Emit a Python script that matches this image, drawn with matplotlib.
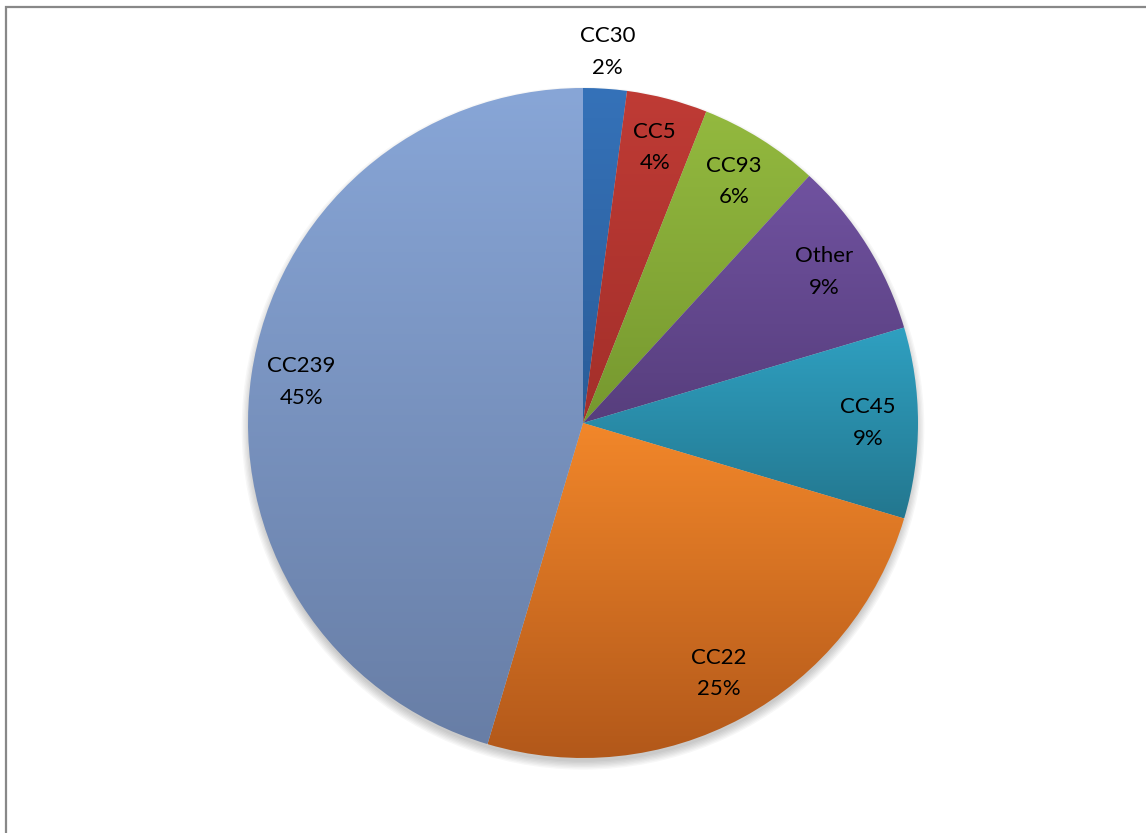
import numpy as np
import matplotlib
matplotlib.use('Agg')
import matplotlib.pyplot as plt
from matplotlib.colors import LinearSegmentedColormap
from matplotlib.patches import Rectangle, Circle

# Dados do grafico
categorias = ['CC30', 'CC5', 'CC93', 'Other', 'CC45', 'CC22', 'CC239']
valores = [2.1, 3.9, 5.8, 8.6, 9.2, 25.0, 45.4]
cor_topo = ['#3572b9', '#bf3b35', '#93b93f', '#7052a0', '#2fa0c1', '#f2872a', '#88a6d7']
cor_base = ['#2a5c98', '#a32f2a', '#76982f', '#573e7d', '#23778f', '#b2581a', '#687ea6']

plt.rcParams['font.family'] = ['Lato', 'DejaVu Sans']

W, H = 1146, 833
fig = plt.figure(figsize=(W / 100, H / 100), dpi=100)
fig.patch.set_facecolor('white')

# centro (583, 423) px, raio 335 px
cx, cy, r_px, half = 583, 423, 335, 400
ax = fig.add_axes([(cx - half) / W, (H - cy - half) / H, 2 * half / W, 2 * half / H])
lim = half / r_px
ax.set_aspect('equal')
ax.axis('off')

# sombra suave abaixo da pizza
for k in range(7):
    sombra = Circle((0, -0.016), 0.995 + 0.004 * k, facecolor='#000000',
                    alpha=0.03, edgecolor='none', zorder=0)
    ax.add_patch(sombra)

wedges, _ = ax.pie(valores, startangle=90, counterclock=False, radius=1.0,
                   wedgeprops=dict(linewidth=0, edgecolor='none'))

gradiente = np.linspace(0, 1, 256).reshape(-1, 1)
for w, c1, c2 in zip(wedges, cor_topo, cor_base):
    ext = w.get_path().get_extents()
    cmap = LinearSegmentedColormap.from_list('g', [c1, c2])
    im = ax.imshow(gradiente, cmap=cmap, aspect='auto', origin='upper',
                   extent=[ext.x0, ext.x1, ext.y0, ext.y1], zorder=2,
                   interpolation='bilinear')
    im.set_clip_path(w)
    w.set_facecolor('none')

# rotulos
for w, nome, v in zip(wedges, categorias, valores):
    meio = np.deg2rad((w.theta1 + w.theta2) / 2)
    dist = 1.11 if nome == 'CC30' else 0.85
    x, y = dist * np.cos(meio), dist * np.sin(meio)
    ax.text(x, y, f'{nome}\n{v:.0f}%', ha='center', va='center', fontsize=16,
            color='black', linespacing=1.7, zorder=5)

ax.set_xlim(-lim, lim)
ax.set_ylim(-lim, lim)

# moldura cinza (so aparecem topo e esquerda)
fig.patches.append(Rectangle((6 / W, -0.05), 1.2, (H - 7) / H + 0.05,
                             transform=fig.transFigure, fill=False,
                             edgecolor='#888888', linewidth=1.6))

fig.savefig('out.png', dpi=100, facecolor='white')
